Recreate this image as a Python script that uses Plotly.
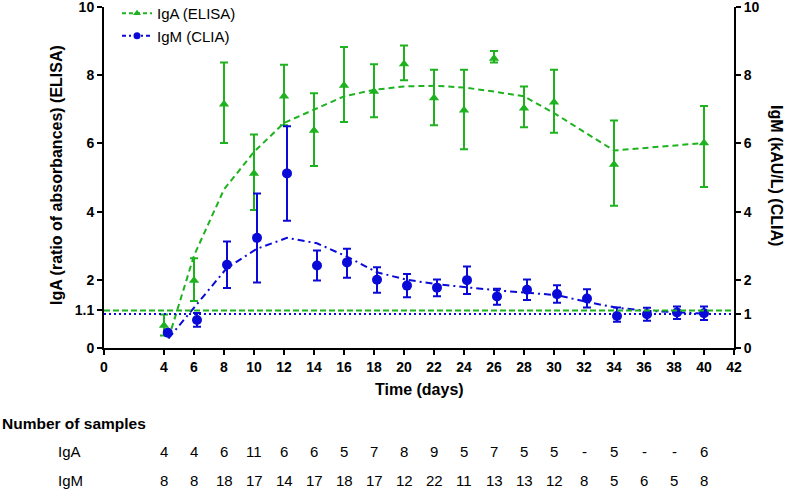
import plotly.graph_objects as go

# ---------------- data ----------------
iga_days = [4, 6, 8, 10, 12, 14, 16, 18, 20, 22, 24, 26, 28, 30, 34, 40]
iga_mean = [0.66, 1.98, 7.15, 5.12, 7.38, 6.38, 7.70, 7.52, 8.33, 7.33, 6.97, 8.49, 7.03, 7.21, 5.38, 6.01]
iga_upper = [0.98, 2.63, 8.37, 6.26, 8.31, 7.47, 8.83, 8.32, 8.87, 8.16, 8.16, 8.71, 7.67, 8.16, 6.67, 7.10]
iga_lower = [0.37, 1.38, 6.01, 4.05, 6.53, 5.34, 6.63, 6.77, 7.85, 6.53, 5.83, 8.37, 6.47, 6.31, 4.17, 4.72]

igm_days = [4.25, 6.2, 8.2, 10.2, 12.2, 14.2, 16.2, 18.2, 20.2, 22.2, 24.2, 26.2, 28.2, 30.2, 32.2, 34.2, 36.2, 38.2, 40.0]
igm_mean = [0.45, 0.82, 2.44, 3.23, 5.12, 2.42, 2.51, 2.00, 1.83, 1.77, 1.99, 1.51, 1.71, 1.58, 1.45, 0.94, 0.99, 1.04, 1.02]
igm_upper = [0.50, 1.03, 3.12, 4.53, 6.50, 2.86, 2.91, 2.37, 2.17, 2.01, 2.39, 1.74, 2.01, 1.84, 1.72, 1.19, 1.18, 1.22, 1.22]
igm_lower = [0.40, 0.62, 1.76, 1.92, 3.73, 1.98, 2.06, 1.62, 1.49, 1.52, 1.58, 1.27, 1.41, 1.33, 1.19, 0.77, 0.80, 0.85, 0.82]

iga_fit_x = [4.3, 6, 8, 10, 12, 14, 16, 18, 20, 22, 24, 26, 28, 30, 34, 40]
iga_fit_y = [0.28, 2.71, 4.65, 5.75, 6.60, 7.00, 7.38, 7.57, 7.67, 7.69, 7.64, 7.52, 7.38, 6.89, 5.79, 6.01]

igm_fit_x = [4.3, 6.2, 8.2, 10.2, 12.2, 14.2, 16.2, 18.2, 20.2, 22.2, 24.2, 26.2, 28.2, 30.2, 32.2, 34.2, 36.2, 38.2, 40.0]
igm_fit_y = [0.28, 1.30, 2.35, 2.91, 3.23, 3.07, 2.68, 2.22, 2.00, 1.87, 1.77, 1.69, 1.62, 1.55, 1.35, 1.18, 1.09, 1.04, 1.01]

iga_cutoff = 1.1
igm_cutoff = 1.0

table_days = [4, 6, 8, 10, 12, 14, 16, 18, 20, 22, 24, 26, 28, 30, 32, 34, 36, 38, 40]
iga_n = ["4", "4", "6", "11", "6", "6", "5", "7", "8", "9", "5", "7", "5", "5", "-", "5", "-", "-", "6"]
igm_n = ["8", "8", "18", "17", "14", "17", "18", "17", "12", "22", "11", "13", "13", "12", "8", "5", "6", "5", "8"]

x_ticks = [0, 4, 6, 8, 10, 12, 14, 16, 18, 20, 22, 24, 26, 28, 30, 32, 34, 36, 38, 40, 42]
left_ticks = [0, 1.1, 2, 4, 6, 8, 10]
right_ticks = [0, 1, 2, 4, 6, 8, 10]

# ---------------- style ----------------
GREEN = "#1EB21E"
BLUE = "#0A0AD8"
FONT = "Liberation Sans, Arial, sans-serif"

W, H = 787, 491
ML, MR, MT, MB = 104, 53, 7, 143
PH = H - MT - MB


def py(ypx):
    return (H - MB - ypx) / PH


def px(xpx):
    return (xpx - ML) / (W - ML - MR)


fig = go.Figure()

# fitted trend lines
fig.add_trace(go.Scatter(x=iga_fit_x, y=iga_fit_y, mode="lines",
                         line=dict(color=GREEN, width=2, dash="6px,4px"),
                         showlegend=False, hoverinfo="skip"))
fig.add_trace(go.Scatter(x=igm_fit_x, y=igm_fit_y, mode="lines", yaxis="y2",
                         line=dict(color=BLUE, width=2, dash="7px,4px,2px,4px"),
                         showlegend=False, hoverinfo="skip"))

# data with error bars
fig.add_trace(go.Scatter(
    x=iga_days, y=iga_mean, mode="markers",
    marker=dict(symbol="triangle-up", size=9, color=GREEN),
    error_y=dict(type="data", symmetric=False,
                 array=[u - m for u, m in zip(iga_upper, iga_mean)],
                 arrayminus=[m - l for m, l in zip(iga_mean, iga_lower)],
                 color=GREEN, thickness=2, width=4),
    showlegend=False))
fig.add_trace(go.Scatter(
    x=igm_days, y=igm_mean, mode="markers", yaxis="y2",
    marker=dict(symbol="circle", size=10, color=BLUE),
    error_y=dict(type="data", symmetric=False,
                 array=[u - m for u, m in zip(igm_upper, igm_mean)],
                 arrayminus=[m - l for m, l in zip(igm_mean, igm_lower)],
                 color=BLUE, thickness=2, width=4),
    showlegend=False))

# legend entries
fig.add_trace(go.Scatter(x=[None], y=[None], mode="lines+markers", name="IgA (ELISA)",
                         line=dict(color=GREEN, width=2, dash="4px,3px"),
                         marker=dict(symbol="triangle-up", size=7, color=GREEN)))
fig.add_trace(go.Scatter(x=[None], y=[None], mode="lines+markers", name="IgM (CLIA)",
                         line=dict(color=BLUE, width=2, dash="4px,3px,2px,3px"),
                         marker=dict(symbol="circle", size=7, color=BLUE)))

# cutoff lines
fig.add_shape(type="line", xref="x", yref="y", x0=0, x1=42, y0=iga_cutoff, y1=iga_cutoff,
              line=dict(color=GREEN, width=2, dash="6px,3px"))
fig.add_shape(type="line", xref="x", yref="y2", x0=0, x1=42, y0=igm_cutoff, y1=igm_cutoff,
              line=dict(color=BLUE, width=2, dash="2px,3px"))

annotations = []
TXT = dict(color="black", family=FONT)


def ann(text, x, y, size, xref="paper", xanchor="center", angle=0):
    annotations.append(dict(text=text, xref=xref, yref="paper", x=x, y=y,
                            xanchor=xanchor, yanchor="middle", textangle=angle,
                            showarrow=False, font=dict(size=size, **TXT)))


# axis titles
ann("<b>IgA (ratio of absorbances) (ELISA)</b>", px(56), py(175), 16, angle=-90)
ann("<b>IgM (kAU/L) (CLIA)</b>", px(777), py(175), 16, angle=90)
ann("<b>Time (days)</b>", 21, py(390), 16, xref="x")
# table
ann("<b>Number of samples</b>", px(0), py(423), 15.5, xanchor="left")
ann("IgA", px(56), py(451), 15, xanchor="left")
ann("IgM", px(56), py(480), 15, xanchor="left")
for d, a, m in zip(table_days, iga_n, igm_n):
    ann(a, d, py(451), 15, xref="x")
    ann(m, d, py(480), 15, xref="x")

axis_common = dict(showline=True, linecolor="black", linewidth=2, ticks="outside",
                   ticklen=5, tickwidth=2, tickcolor="black", showgrid=False, zeroline=False,
                   ticklabeloverflow="allow",
                   tickfont=dict(size=14, color="black", family=FONT))

fig.update_layout(
    width=W, height=H,
    margin=dict(l=ML, r=MR, t=MT, b=MB, autoexpand=False),
    paper_bgcolor="white", plot_bgcolor="white",
    font=dict(family=FONT, color="black"),
    xaxis=dict(range=[0, 42], tickvals=x_ticks, ticktext=[f"<b>{t}</b>" for t in x_ticks],
               **axis_common),
    yaxis=dict(range=[0, 10], tickvals=left_ticks, ticktext=[f"<b>{t}</b>" for t in left_ticks],
               **axis_common),
    yaxis2=dict(range=[0, 10], tickvals=right_ticks, ticktext=[f"<b>{t}</b>" for t in right_ticks],
                overlaying="y", side="right", anchor="x", **axis_common),
    legend=dict(x=px(117), y=py(-3), xanchor="left", yanchor="top", bgcolor="rgba(0,0,0,0)",
                font=dict(size=15, **TXT), tracegroupgap=0, itemwidth=30),
    annotations=annotations,
    showlegend=True,
)

fig.write_html("out.html", config={"displayModeBar": False},
               post_script="document.body.style.margin='0px';")
